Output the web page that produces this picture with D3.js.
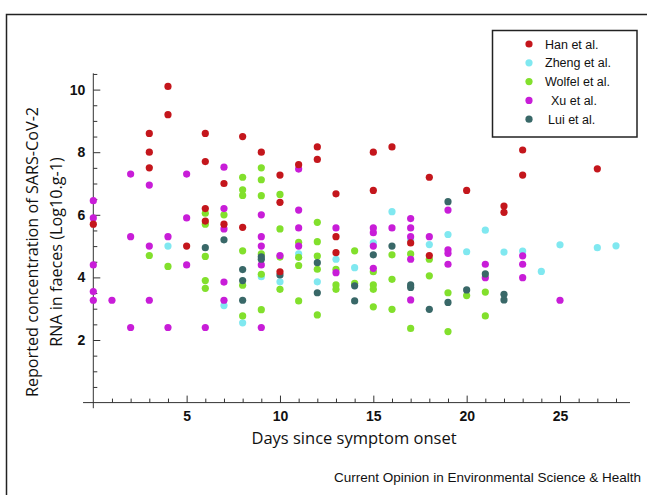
<!DOCTYPE html>
<html><head><meta charset="utf-8">
<script src="https://cdn.jsdelivr.net/npm/d3@7"></script>
<style>body{margin:0;background:#fff}svg{display:block}</style>
</head><body>
<script>
const seriesNames = ["Han et al.", "Zheng et al.", "Wolfel et al.", "Xu et al.", "Lui et al."];
const seriesColors = ["#c4161c", "#80e8f0", "#82e02c", "#c81dd8", "#396868"];
const han = [[0,5.7],[3,8.6],[3,8.0],[3,7.5],[4,10.1],[4,9.2],[5,5.0],[6,8.6],[6,7.7],[6,6.2],[6,5.8],[7,7.0],[7,5.7],[8,8.5],[8,5.6],[9,8.0],[10,7.27],[10,6.4],[10,4.18],[11,7.6],[12,8.17],[12,7.77],[13,6.67],[13,5.3],[13,4.79],[15,8.0],[15,6.78],[16,8.17],[17,5.1],[18,7.2],[18,4.7],[20,6.78],[22,6.28],[22,6.08],[23,8.07],[23,7.27],[27,7.47]];
const zheng = [[4,5.0],[7,3.1],[8,2.55],[9,4.02],[10,3.86],[11,4.75],[12,3.86],[13,4.58],[14,4.31],[15,5.1],[16,6.1],[17,5.2],[18,5.05],[19,5.37],[20,4.82],[21,5.51],[22,4.81],[23,4.84],[24,4.19],[25,5.04],[27,4.95],[28,5.01]];
const wolfel = [[3,4.7],[4,4.35],[6,6.05],[6,5.7],[6,4.67],[6,3.9],[6,3.65],[7,6.0],[8,7.2],[8,6.8],[8,6.62],[8,4.85],[8,3.75],[8,2.77],[9,7.5],[9,7.12],[9,6.61],[9,4.75],[9,4.1],[9,2.97],[10,6.65],[10,5.55],[10,4.65],[10,3.62],[11,5.12],[11,4.64],[11,4.38],[11,3.25],[12,5.76],[12,5.14],[12,4.68],[12,4.26],[12,2.8],[13,4.26],[13,3.76],[13,3.62],[14,4.85],[14,3.81],[15,4.18],[15,3.76],[15,3.62],[15,3.06],[16,4.72],[16,3.94],[16,2.98],[17,4.75],[17,2.37],[18,4.58],[18,4.05],[19,3.51],[19,2.27],[20,3.42],[21,3.53],[21,2.77]];
const xu = [[0,6.45],[0,5.9],[0,4.4],[0,3.55],[0,3.27],[1,3.27],[2,7.3],[2,5.3],[2,2.4],[3,6.95],[3,5.0],[3,3.27],[4,5.3],[4,2.4],[5,7.3],[5,5.9],[5,4.4],[6,2.4],[7,7.52],[7,6.2],[7,5.55],[7,3.85],[7,3.27],[9,6.0],[9,5.3],[9,5.0],[9,4.4],[9,2.4],[10,4.7],[11,7.46],[11,6.15],[11,5.58],[11,5.0],[13,5.58],[13,4.15],[15,5.58],[15,5.43],[15,5.0],[15,4.29],[16,5.58],[17,5.88],[17,5.58],[17,5.3],[17,4.58],[17,3.28],[18,5.3],[19,6.15],[19,4.88],[19,4.77],[19,4.42],[21,4.42],[21,3.99],[23,4.69],[23,4.42],[23,3.99],[25,3.27]];
const lui = [[6,4.95],[7,5.2],[8,4.25],[8,3.9],[8,3.27],[9,4.66],[9,4.58],[10,4.08],[12,4.47],[12,3.51],[14,3.73],[14,3.25],[15,4.72],[16,5.0],[17,3.76],[17,3.68],[18,2.98],[19,6.42],[19,3.2],[20,3.6],[21,4.11],[22,3.46],[22,3.28]];
const xMajorTicks = [5, 10, 15, 20, 25];
const yMajorTicks = [2, 4, 6, 8, 10];
const xTitle = "Days since symptom onset";
const yTitle = ["Reported concentration of SARS-CoV-2", "RNA in faeces (Log10.g-1)"];
const sourceText = "Current Opinion in Environmental Science & Health";

const seriesData = [han, zheng, wolfel, xu, lui];
const drawOrder = [1, 2, 3, 4, 0];

const W = 647, H = 495;
const svg = d3.select("body").append("svg").attr("width", W).attr("height", H);

// frame
svg.append("path").attr("d", `M6.5,${H} V14.5 H${W}`).attr("fill", "none").attr("stroke", "#222").attr("stroke-width", 1.5);

const x = d3.scaleLinear().domain([0, 28]).range([93.3, 616]);
const y = d3.scaleLinear().domain([0, 10]).range([402.6, 89.6]);

const axisColor = "#333";
svg.append("line").attr("x1", x(-0.55)).attr("x2", x(28.75)).attr("y1", y(0)).attr("y2", y(0)).attr("stroke", axisColor);
svg.append("line").attr("x1", x(0)).attr("x2", x(0)).attr("y1", y(10.52)).attr("y2", y(-0.18)).attr("stroke", axisColor);

const xMinor = d3.range(1, 29).filter(d => d % 5 !== 0);
const yMinor = d3.range(0.5, 10.51, 0.5).filter(d => Math.abs(d % 2) > 0.01);
const gxm = svg.append("g").attr("transform", `translate(0,${y(0)})`)
  .call(d3.axisBottom(x).tickValues(xMinor).tickSize(-4).tickFormat(""));
const gym = svg.append("g").attr("transform", `translate(${x(0)},0)`)
  .call(d3.axisLeft(y).tickValues(yMinor).tickSize(-4).tickFormat(""));
const gx = svg.append("g").attr("transform", `translate(0,${y(0)})`)
  .call(d3.axisBottom(x).tickValues(xMajorTicks).tickSize(-7).tickPadding(8).tickFormat(d3.format("d")));
const gy = svg.append("g").attr("transform", `translate(${x(0)},0)`)
  .call(d3.axisLeft(y).tickValues(yMajorTicks).tickSize(-7).tickPadding(8).tickFormat(d3.format("d")));
[gxm, gym, gx, gy].forEach(g => {
  g.select(".domain").remove();
  g.selectAll(".tick line").attr("stroke", axisColor);
  g.selectAll(".tick text").attr("fill", "#111").style("font-family", "Liberation Sans, Arial, sans-serif")
    .style("font-size", "14px").style("font-weight", "bold");
});

drawOrder.forEach(i => {
  svg.append("g").selectAll("circle").data(seriesData[i]).join("circle")
    .attr("cx", d => x(d[0])).attr("cy", d => y(d[1])).attr("r", 3.6)
    .attr("fill", seriesColors[i]);
});

const titleFont = "'Open Sans', 'Noto Sans', sans-serif";
svg.append("text").attr("x", 354).attr("y", 444).attr("text-anchor", "middle")
  .style("font-family", titleFont).style("font-size", "16.5px").attr("fill", "#111").text(xTitle);
yTitle.forEach((t, i) => {
  svg.append("text").attr("transform", `translate(${38 + i * 24},252) rotate(-90)`).attr("text-anchor", "middle")
    .style("font-family", titleFont).style("font-size", "16.2px").attr("fill", "#111").text(t);
});

svg.append("text").attr("x", 641).attr("y", 482).attr("text-anchor", "end")
  .style("font-family", "Liberation Sans, Arial, sans-serif").style("font-size", "13.5px").attr("fill", "#111").text(sourceText);

const lg = svg.append("g");
lg.append("rect").attr("x", 492.5).attr("y", 30.5).attr("width", 144.5).attr("height", 106.5)
  .attr("fill", "#fff").attr("stroke", "#222").attr("stroke-width", 1.5);
seriesNames.forEach((n, i) => {
  const cy = 44 + i * 18.8;
  lg.append("circle").attr("cx", 529).attr("cy", cy).attr("r", 3.6).attr("fill", seriesColors[i]);
  lg.append("text").attr("x", n.startsWith("Xu") ? 551 : (n.startsWith("Lui") ? 548 : 545)).attr("y", cy + 4.5)
    .style("font-family", "Liberation Sans, Arial, sans-serif").style("font-size", "12.5px").attr("fill", "#111").text(n);
});
</script>
</body></html>
